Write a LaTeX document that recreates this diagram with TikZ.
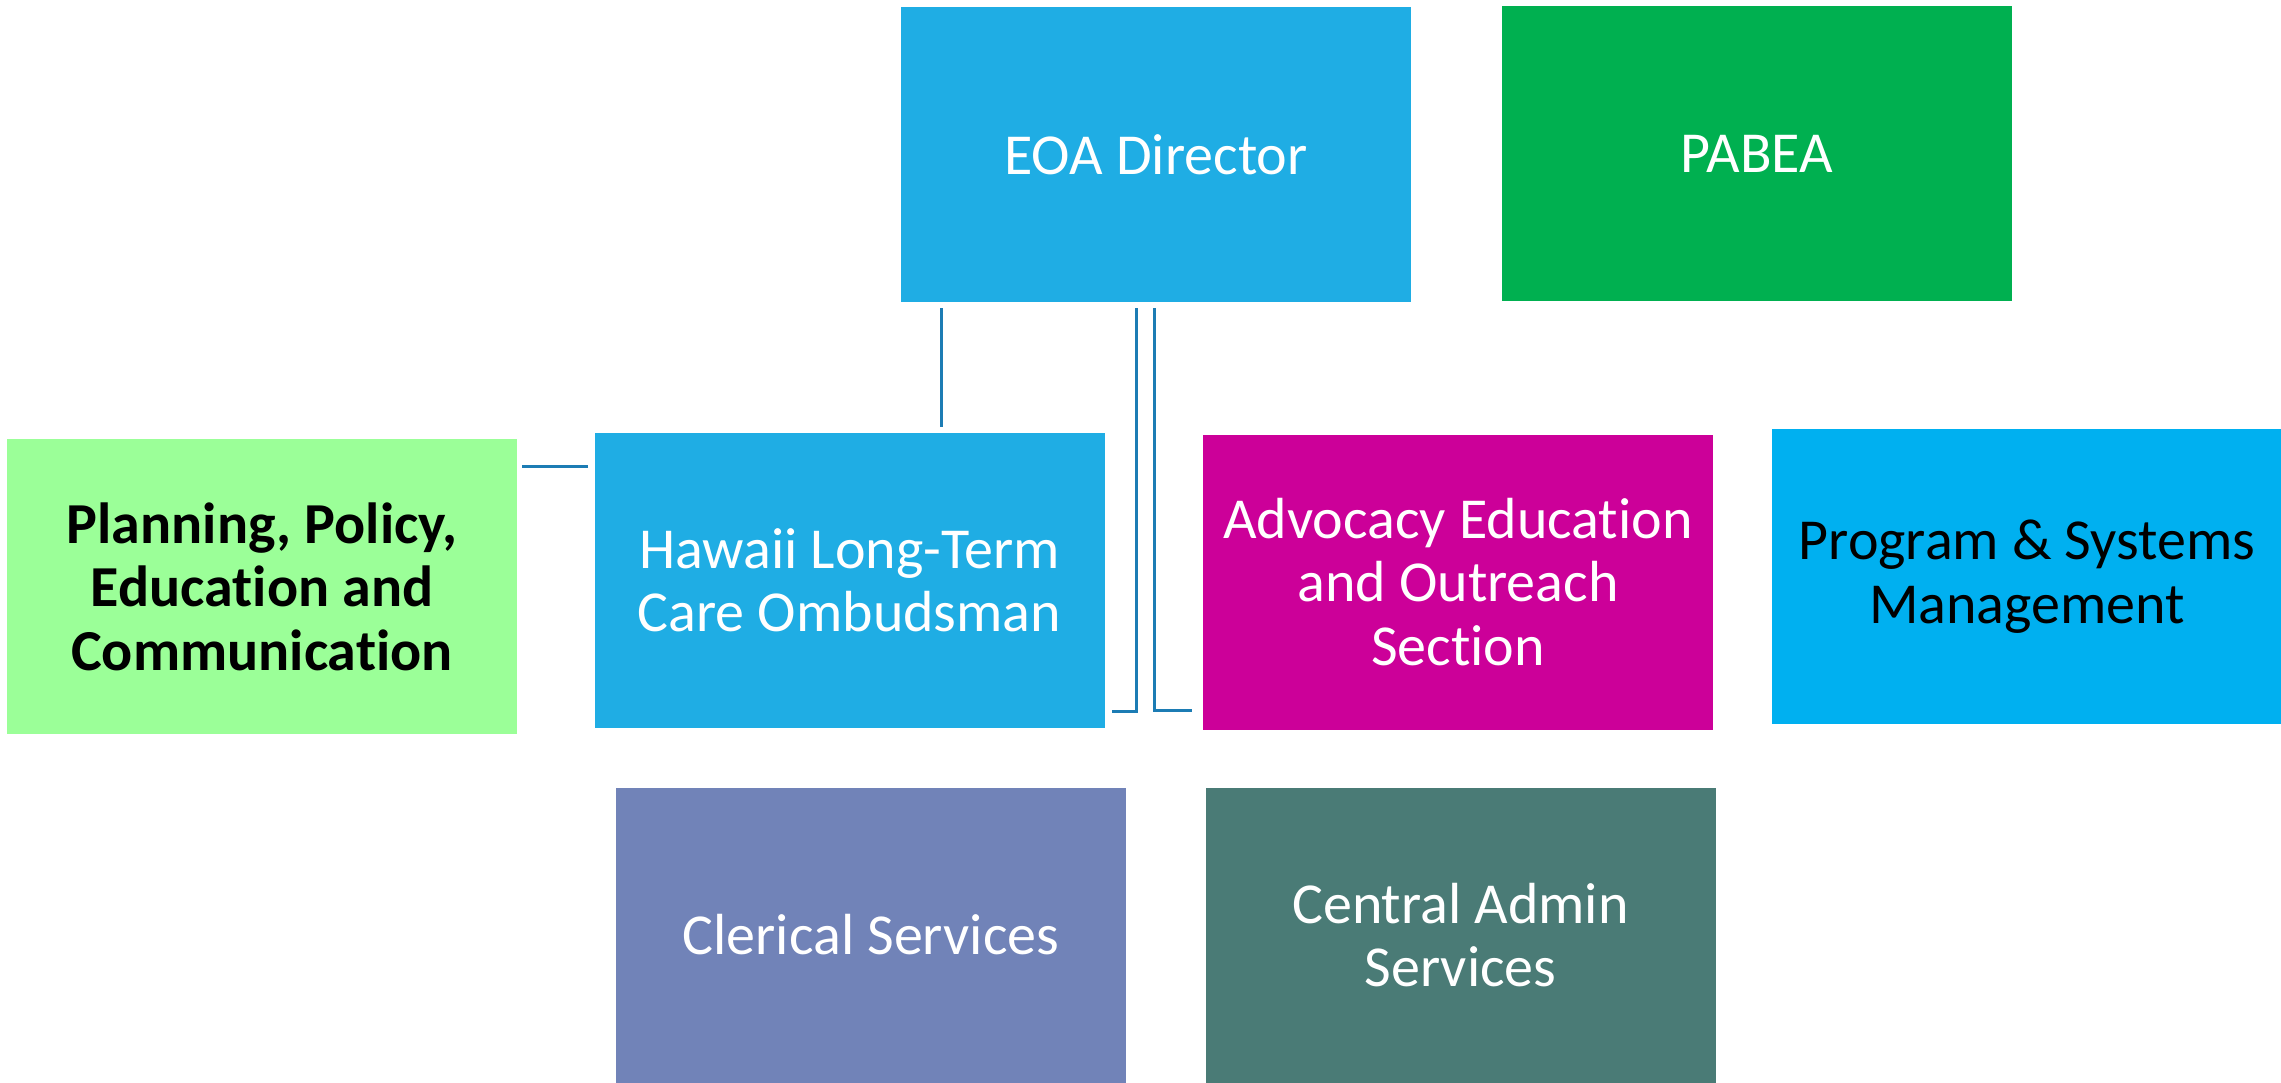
\documentclass[tikz,border=0pt]{standalone}
\usepackage{fontspec}
\setmainfont{Carlito}[Ligatures={NoCommon,NoRare,NoContextual},Contextuals=NoAlternate]
\definecolor{dirblue}{RGB}{31,173,228}
\definecolor{pabeagreen}{RGB}{0,176,80}
\definecolor{plangreen}{RGB}{155,255,152}
\definecolor{advmag}{RGB}{204,0,153}
\definecolor{psmblue}{RGB}{0,176,240}
\definecolor{clerblue}{RGB}{113,131,184}
\definecolor{camteal}{RGB}{74,123,118}
\definecolor{connblue}{RGB}{28,124,180}
\begin{document}
\begin{tikzpicture}[x=0.5pt,y=-0.5pt,
  orgbox/.style={rectangle, draw=none, minimum width=255pt, minimum height=147.5pt,
    inner sep=0pt, align=center, text=white,
    font=\fontsize{29}{31.75}\selectfont},
  conn/.style={draw=connblue, line width=1.5pt}]
\useasboundingbox (0,0) rectangle (2281,1082);
\node[orgbox, fill=dirblue] (dir) at (1156,154.5) {EOA Director};
\node[orgbox, fill=pabeagreen] (pabea) at (1757,153.5) {PABEA};
\node[orgbox, fill=plangreen, text=black, font=\fontsize{29}{31.75}\selectfont\bfseries] (plan) at (262,586.5) {Planning, Policy,\\Education and\\Communication};
\node[orgbox, fill=dirblue] (ltc) at (849.5,580.5) {Hawaii Long-Term\\Care Ombudsman};
\node[orgbox, fill=advmag] (adv) at (1458,582) {Advocacy Education\\and Outreach\\Section};
\node[orgbox, fill=psmblue, text=black] (psm) at (2027,576.5) {Program \& Systems\\Management};
\node[orgbox, fill=clerblue] (cler) at (871,935) {Clerical Services};
\node[orgbox, fill=camteal] (cam) at (1460.5,935) {Central Admin\\Services};
\draw[conn, shorten <=3pt, shorten >=3pt] ([xshift=20.5pt]dir.south west) -- ([xshift=20.5pt]dir.south west |- ltc.north);
\draw[conn, shorten <=3pt, shorten >=2.5pt] ([yshift=-17pt]ltc.north west) -- ([yshift=-17pt]ltc.north west -| plan.east);
\draw[conn, shorten <=3pt, shorten >=3.5pt] ([xshift=118pt]dir.south west) |- ([yshift=8.5pt]ltc.south east);
\draw[conn, shorten <=3pt, shorten >=5.5pt] ([xshift=127pt]dir.south west) |- ([yshift=9.5pt]adv.south west);
\end{tikzpicture}
\end{document}
